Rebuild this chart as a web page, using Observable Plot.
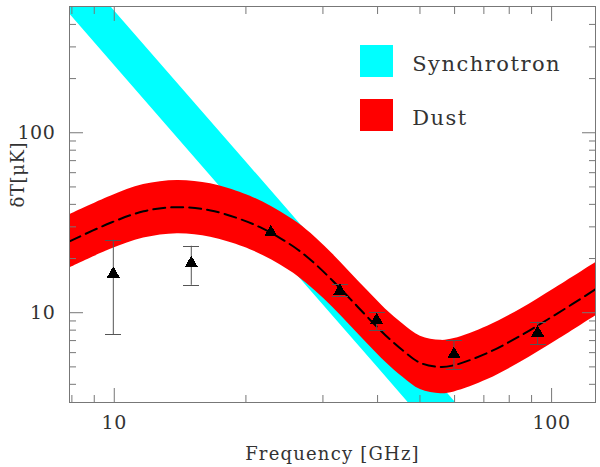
<!DOCTYPE html>
<html><head><meta charset="utf-8">
<script src="https://cdn.jsdelivr.net/npm/d3@7"></script>
<script src="https://cdn.jsdelivr.net/npm/@observablehq/plot@0.6"></script>
<style>body{margin:0;background:#fff} #chart svg{display:block}</style>
</head><body><div id="chart"></div>
<script>
// Synchrotron band
const syncFreq = [7, 10, 20, 40, 70];
const syncLow  = [642, 237, 34.3, 4.97, 1.04];
const syncHigh = [1291, 477, 69.0, 9.97, 2.09];

// Dust / total model band and dashed centre line
const dustFreq = [7.9, 9.81, 11.67, 13.94, 16.61, 19.76, 21.88, 23.99, 26.3, 28.84, 31.62, 34.67, 38.02, 41.69, 45.71, 50.12, 55.8, 59.9, 71.4, 85.1, 101.4, 126.1];
const dustMid  = [24.9, 31.6, 36.6, 38.6, 37.0, 32.6, 29.3, 25.9, 22.4, 18.6, 15.0, 11.9, 9.40, 7.50, 6.16, 5.26, 4.99, 5.11, 5.98, 7.48, 9.66, 13.5];
const dustHigh = [35.0, 44.4, 51.5, 54.3, 52.0, 45.8, 41.2, 36.4, 31.5, 26.2, 21.1, 16.7, 13.2, 10.5, 8.66, 7.40, 7.02, 7.18, 8.41, 10.5, 13.6, 19.0];
const dustLow  = [17.7, 22.5, 26.0, 27.5, 26.3, 23.2, 20.8, 18.4, 15.9, 13.2, 10.7, 8.46, 6.69, 5.33, 4.38, 3.74, 3.55, 3.63, 4.25, 5.32, 6.87, 9.60];

// Measured points with error bars
const obsFreq = [9.95, 15.0, 22.8, 32.8, 39.8, 59.8, 92.9];
const obsT    = [16.4, 18.8, 27.9, 13.2, 9.05, 5.87, 7.71];
const obsLow  = [7.55, 14.2, null, 12.3, 7.98, 4.84, 6.64];
const obsHigh = [25.3, 23.4, null, 14.4, 10.0, 7.0, 8.87];

// Axes
const xDomain = [7.9, 126];
const yDomain = [3.17, 503];
const xMajor = [10, 100];
const xMinor = [8, 9, 20, 30, 40, 50, 60, 70, 80, 90];
const yMajor = [10, 100];
const yMinor = [4, 5, 6, 7, 8, 9, 20, 30, 40, 50, 60, 70, 80, 90, 200, 300, 400];
const xTitle = "Frequency [GHz]";
const yTitle = "δT[μK]";

// Legend
const legendNames  = ["Synchrotron", "Dust"];
const legendColors = ["#00ffff", "#ff0000"];

const sync = syncFreq.map((f, i) => ({f, lo: syncLow[i], hi: syncHigh[i]}));
const dust = dustFreq.map((f, i) => ({f, mid: dustMid[i], lo: dustLow[i], hi: dustHigh[i]}));
const obs  = obsFreq.map((f, i) => ({f, t: obsT[i], lo: obsLow[i], hi: obsHigh[i]}));

const capSymbol = {draw(ctx, size) { const w = Math.sqrt(size / Math.PI); ctx.moveTo(-w, 0); ctx.lineTo(w, 0); }};
const tickColor = "#777";
const textColor = "#333";

const tickAxes = [];
for (const anchor of ["bottom", "top"]) {
  tickAxes.push(Plot.axisX(xMajor, {anchor, tickSize: -14, fill: "none", stroke: tickColor, label: null}));
  tickAxes.push(Plot.axisX(xMinor, {anchor, tickSize: -7, fill: "none", stroke: tickColor, label: null}));
}
for (const anchor of ["left", "right"]) {
  tickAxes.push(Plot.axisY(yMajor, {anchor, tickSize: -14, fill: "none", stroke: tickColor, label: null}));
  tickAxes.push(Plot.axisY(yMinor, {anchor, tickSize: -7, fill: "none", stroke: tickColor, label: null}));
}

const legendMarks = legendNames.flatMap((name, i) => [
  Plot.dot([name], {frameAnchor: "top-left", dx: 307, dy: 54.5 + 53.7 * i, symbol: "square", r: 18.1, fill: legendColors[i]}),
  Plot.text([name], {frameAnchor: "top-left", dx: 342.7, dy: 58 + 53.5 * i, text: d => d, textAnchor: "start", lineAnchor: "middle", fontSize: 21, fill: textColor})
]);

const chart = Plot.plot({
  width: 600, height: 467,
  marginLeft: 69, marginRight: 5, marginTop: 6, marginBottom: 65,
  style: {fontFamily: "'DejaVu Serif', serif", background: "#fff", letterSpacing: "0.6px"},
  x: {type: "log", domain: xDomain},
  y: {type: "log", domain: yDomain},
  marks: [
    Plot.areaY(sync, {x: "f", y1: "lo", y2: "hi", fill: "#00ffff", clip: true}),
    Plot.areaY(dust, {x: "f", y1: "lo", y2: "hi", fill: "#ff0000", curve: "catmull-rom", clip: true}),
    Plot.line(dust, {x: "f", y: "mid", stroke: "#000", strokeWidth: 2, strokeDasharray: "12,6", curve: "catmull-rom", clip: true}),
    Plot.ruleX(obs.filter(d => d.lo != null), {x: "f", y1: "lo", y2: "hi", stroke: "#555", strokeWidth: 1}),
    Plot.dot(obs.filter(d => d.lo != null), {x: "f", y: "lo", symbol: capSymbol, r: 8, stroke: "#555", fill: "none", strokeWidth: 1}),
    Plot.dot(obs.filter(d => d.hi != null), {x: "f", y: "hi", symbol: capSymbol, r: 8, stroke: "#555", fill: "none", strokeWidth: 1}),
    Plot.dot(obs, {x: "f", y: "t", symbol: "triangle", r: 5, fill: "#000", stroke: "none"}),
    Plot.frame({stroke: tickColor}),
    ...tickAxes,
    Plot.axisX(xMajor, {anchor: "bottom", tickSize: 0, tickPadding: 13, tickFormat: d => String(d), fill: textColor, fontSize: 19, label: null}),
    Plot.axisY(yMajor, {anchor: "left", tickSize: 0, tickPadding: 14, tickFormat: d => String(d), fill: textColor, fontSize: 19, label: null}),
    Plot.text([xTitle], {frameAnchor: "bottom", dy: 52, text: d => d, lineAnchor: "middle", fontSize: 18, fill: textColor}),
    Plot.text([yTitle], {frameAnchor: "left", dx: -51.5, dy: 3, rotate: -90, text: d => d, lineAnchor: "middle", fontSize: 18, fill: textColor}),
    ...legendMarks
  ]
});
// wider letter spacing for the titles and legend labels
for (const t of chart.querySelectorAll("text")) {
  const s = t.textContent;
  if (legendNames.includes(s)) t.style.letterSpacing = "1.5px";
  else if (s === xTitle) t.style.letterSpacing = "1.2px";
}
chart.querySelectorAll("path").forEach(p => p.setAttribute("shape-rendering", p.closest("g[aria-label='dot']") ? "crispEdges" : null) );
document.getElementById("chart").appendChild(chart);
</script>
</body></html>
